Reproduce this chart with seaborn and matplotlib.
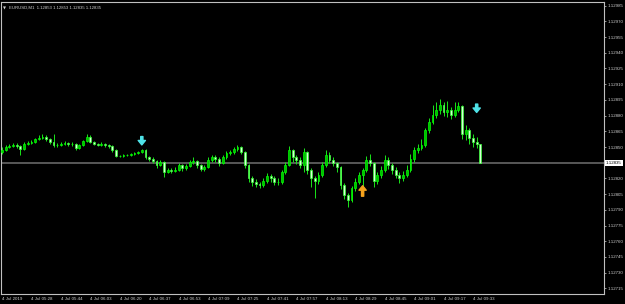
import numpy as np
import matplotlib
matplotlib.use("Agg")
import matplotlib.pyplot as plt
import matplotlib.transforms as mtransforms
import seaborn as sns

# ---------------- data ----------------
symbol_header = "EURUSD,M1  1.12853 1.12853 1.12835 1.12835"

open_ = [1.12845, 1.12847, 1.12850, 1.12851, 1.12852, 1.12851, 1.12848, 1.12853, 1.12854, 1.12855,
         1.12858, 1.12859, 1.12860, 1.12858, 1.12855, 1.12852, 1.12852, 1.12853, 1.12854, 1.12853,
         1.12853, 1.12849, 1.12852, 1.12856, 1.12860, 1.12855, 1.12853, 1.12852, 1.12853, 1.12852,
         1.12851, 1.12847, 1.12841, 1.12841, 1.12842, 1.12842, 1.12843, 1.12844, 1.12845, 1.12847,
         1.12840, 1.12839, 1.12837, 1.12833, 1.12836, 1.12826, 1.12828, 1.12827, 1.12828, 1.12833,
         1.12830, 1.12832, 1.12836, 1.12837, 1.12833, 1.12829, 1.12831, 1.12838, 1.12840, 1.12839,
         1.12835, 1.12840, 1.12844, 1.12845, 1.12848, 1.12850, 1.12845, 1.12833, 1.12820, 1.12817,
         1.12815, 1.12814, 1.12818, 1.12822, 1.12820, 1.12817, 1.12817, 1.12826, 1.12833, 1.12847,
         1.12840, 1.12838, 1.12833, 1.12845, 1.12828, 1.12820, 1.12818, 1.12823, 1.12833, 1.12842,
         1.12838, 1.12835, 1.12831, 1.12814, 1.12804, 1.12799, 1.12811, 1.12817, 1.12823, 1.12828,
         1.12838, 1.12835, 1.12818, 1.12823, 1.12828, 1.12838, 1.12833, 1.12828, 1.12823, 1.12820,
         1.12823, 1.12828, 1.12839, 1.12847, 1.12849, 1.12852, 1.12866, 1.12874, 1.12881, 1.12885,
         1.12890, 1.12883, 1.12885, 1.12881, 1.12885, 1.12889, 1.12862, 1.12866, 1.12859, 1.12855,
         1.12853]
high = [1.12850, 1.12852, 1.12853, 1.12854, 1.12854, 1.12852, 1.12855, 1.12856, 1.12857, 1.12859,
        1.12861, 1.12862, 1.12861, 1.12859, 1.12862, 1.12854, 1.12855, 1.12856, 1.12855, 1.12855,
        1.12854, 1.12853, 1.12857, 1.12862, 1.12861, 1.12856, 1.12854, 1.12855, 1.12854, 1.12853,
        1.12852, 1.12848, 1.12842, 1.12843, 1.12843, 1.12844, 1.12845, 1.12846, 1.12848, 1.12848,
        1.12841, 1.12840, 1.12838, 1.12838, 1.12837, 1.12830, 1.12830, 1.12831, 1.12835, 1.12834,
        1.12834, 1.12838, 1.12840, 1.12838, 1.12834, 1.12833, 1.12840, 1.12842, 1.12842, 1.12840,
        1.12842, 1.12846, 1.12847, 1.12850, 1.12852, 1.12851, 1.12846, 1.12834, 1.12822, 1.12819,
        1.12817, 1.12820, 1.12825, 1.12824, 1.12822, 1.12820, 1.12828, 1.12836, 1.12851, 1.12848,
        1.12842, 1.12840, 1.12849, 1.12846, 1.12830, 1.12822, 1.12826, 1.12836, 1.12847, 1.12845,
        1.12840, 1.12836, 1.12832, 1.12816, 1.12806, 1.12813, 1.12820, 1.12826, 1.12830, 1.12841,
        1.12843, 1.12836, 1.12826, 1.12832, 1.12842, 1.12840, 1.12835, 1.12831, 1.12826, 1.12827,
        1.12833, 1.12843, 1.12850, 1.12853, 1.12858, 1.12868, 1.12878, 1.12890, 1.12893, 1.12896,
        1.12893, 1.12894, 1.12888, 1.12893, 1.12893, 1.12890, 1.12871, 1.12868, 1.12862, 1.12860,
        1.12853]
low = [1.12843, 1.12846, 1.12849, 1.12850, 1.12849, 1.12842, 1.12847, 1.12852, 1.12853, 1.12854,
       1.12857, 1.12858, 1.12856, 1.12853, 1.12850, 1.12850, 1.12851, 1.12852, 1.12851, 1.12851,
       1.12847, 1.12848, 1.12851, 1.12855, 1.12854, 1.12852, 1.12851, 1.12851, 1.12850, 1.12849,
       1.12845, 1.12840, 1.12840, 1.12840, 1.12841, 1.12841, 1.12842, 1.12843, 1.12844, 1.12839,
       1.12837, 1.12835, 1.12830, 1.12832, 1.12821, 1.12825, 1.12825, 1.12826, 1.12827, 1.12827,
       1.12828, 1.12831, 1.12834, 1.12830, 1.12827, 1.12827, 1.12830, 1.12836, 1.12836, 1.12832,
       1.12834, 1.12839, 1.12842, 1.12843, 1.12846, 1.12843, 1.12830, 1.12817, 1.12813, 1.12812,
       1.12811, 1.12812, 1.12816, 1.12817, 1.12814, 1.12814, 1.12815, 1.12824, 1.12832, 1.12836,
       1.12834, 1.12830, 1.12826, 1.12824, 1.12812, 1.12801, 1.12815, 1.12821, 1.12831, 1.12835,
       1.12832, 1.12826, 1.12810, 1.12800, 1.12793, 1.12797, 1.12808, 1.12815, 1.12813, 1.12826,
       1.12832, 1.12812, 1.12815, 1.12820, 1.12826, 1.12829, 1.12824, 1.12820, 1.12816, 1.12818,
       1.12821, 1.12826, 1.12836, 1.12844, 1.12847, 1.12850, 1.12863, 1.12872, 1.12878, 1.12882,
       1.12880, 1.12879, 1.12877, 1.12879, 1.12883, 1.12858, 1.12857, 1.12853, 1.12850, 1.12849,
       1.12835]
close = [1.12847, 1.12850, 1.12851, 1.12852, 1.12851, 1.12848, 1.12853, 1.12854, 1.12855, 1.12858,
         1.12859, 1.12860, 1.12858, 1.12855, 1.12852, 1.12852, 1.12853, 1.12854, 1.12853, 1.12853,
         1.12849, 1.12852, 1.12856, 1.12860, 1.12855, 1.12853, 1.12852, 1.12853, 1.12852, 1.12851,
         1.12847, 1.12841, 1.12841, 1.12842, 1.12842, 1.12843, 1.12844, 1.12845, 1.12847, 1.12840,
         1.12839, 1.12837, 1.12833, 1.12836, 1.12826, 1.12828, 1.12827, 1.12828, 1.12833, 1.12830,
         1.12832, 1.12836, 1.12837, 1.12833, 1.12829, 1.12831, 1.12838, 1.12840, 1.12839, 1.12835,
         1.12840, 1.12844, 1.12845, 1.12848, 1.12850, 1.12845, 1.12833, 1.12820, 1.12817, 1.12815,
         1.12814, 1.12818, 1.12822, 1.12820, 1.12817, 1.12817, 1.12826, 1.12833, 1.12847, 1.12840,
         1.12838, 1.12833, 1.12845, 1.12828, 1.12820, 1.12818, 1.12823, 1.12833, 1.12842, 1.12838,
         1.12835, 1.12831, 1.12814, 1.12804, 1.12799, 1.12811, 1.12817, 1.12823, 1.12828, 1.12838,
         1.12835, 1.12818, 1.12823, 1.12828, 1.12838, 1.12833, 1.12828, 1.12823, 1.12820, 1.12823,
         1.12828, 1.12839, 1.12847, 1.12849, 1.12852, 1.12866, 1.12874, 1.12881, 1.12885, 1.12890,
         1.12883, 1.12885, 1.12881, 1.12885, 1.12889, 1.12862, 1.12866, 1.12859, 1.12855, 1.12853,
         1.12835]

current_price = 1.12835

time_labels = ["4 Jul 2019", "4 Jul 05:28", "4 Jul 05:44", "4 Jul 06:03", "4 Jul 06:20",
               "4 Jul 06:37", "4 Jul 06:53", "4 Jul 07:09", "4 Jul 07:25", "4 Jul 07:41",
               "4 Jul 07:57", "4 Jul 08:13", "4 Jul 08:29", "4 Jul 08:45", "4 Jul 09:01",
               "4 Jul 09:17", "4 Jul 09:33"]
bars_per_label = 8

price_ticks = [1.12985, 1.12970, 1.12955, 1.12940, 1.12925, 1.12910, 1.12895, 1.12880,
               1.12865, 1.12850, 1.12820, 1.12805, 1.12790, 1.12775, 1.12760, 1.12745,
               1.12730, 1.12715]

# signal arrows: bar index, tail price, tip price, colour
arrow_bar = [38, 129, 98]
arrow_tail = [1.12860, 1.12891, 1.12803]
arrow_tip = [1.12852, 1.12883, 1.12813]
arrow_color = ["#4fe3e8", "#4fe3e8", "#f5a21c"]

# ---------------- plot ----------------
sns.set_theme(style="dark", rc={
    "axes.facecolor": "black", "figure.facecolor": "black",
    "axes.edgecolor": "#c0c0c0", "axes.grid": False,
})
plt.rcParams["font.family"] = ["Liberation Sans", "DejaVu Sans"]

fig = plt.figure(figsize=(6.25, 3.04), dpi=100)
ax = fig.add_axes([1 / 625, 10 / 304, 603 / 625, 292 / 304])
ax.set_facecolor("black")

o = np.array(open_)
h = np.array(high)
l = np.array(low)
c = np.array(close)
x = np.arange(len(c))

ax.vlines(x, l, h, color="#19e619", lw=0.7, zorder=2)
up = c >= o
ax.bar(x[up], (c - o)[up], bottom=o[up], width=0.5, color="#00c000",
       edgecolor="#00ff00", linewidth=0.5, zorder=3)
ax.bar(x[~up], (o - c)[~up], bottom=c[~up], width=0.5, color="#d6ffd6",
       edgecolor="#33ff33", linewidth=0.5, zorder=3)

ax.axhline(current_price, color="#707070", lw=1.1, zorder=1)

for b, t0, t1, col in zip(arrow_bar, arrow_tail, arrow_tip, arrow_color):
    ax.annotate("", xy=(b, t1), xytext=(b, t0),
                arrowprops=dict(width=1.6, headwidth=5.2, headlength=3.2,
                                color=col, shrink=0), zorder=5)

ax.set_xlim(-0.27, 163.6)
ax.set_ylim(1.127096, 1.129885)

for s in ax.spines.values():
    s.set_color("#c0c0c0")
    s.set_linewidth(0.8)

ax.yaxis.tick_right()
ax.set_yticks(price_ticks)
ax.set_yticklabels([f"{v:.5f}" for v in price_ticks])
ax.set_xticks(np.arange(len(time_labels)) * bars_per_label)
ax.set_xticklabels(time_labels, ha="left")
ax.tick_params(axis="both", colors="#d0d0d0", labelsize=3.2, length=1.5,
               width=0.5, pad=1)
ax.tick_params(axis="y", pad=1.2)

trans = mtransforms.blended_transform_factory(ax.transAxes, ax.transData)
ax.text(1.0035, current_price, f"{current_price:.5f}", transform=trans,
        ha="left", va="center", color="black", fontsize=3.2,
        bbox=dict(boxstyle="square,pad=0.25", fc="white", ec="none"), clip_on=False)

ax.text(0.004, 0.985, "▼", transform=ax.transAxes, color="#d0d0d0",
        fontsize=2.8, ha="left", va="top", family=["DejaVu Sans"])
ax.text(0.013, 0.987, symbol_header, transform=ax.transAxes, color="#d0d0d0",
        fontsize=3.1, ha="left", va="top")

fig.savefig("out.png", dpi=100, facecolor="black")
